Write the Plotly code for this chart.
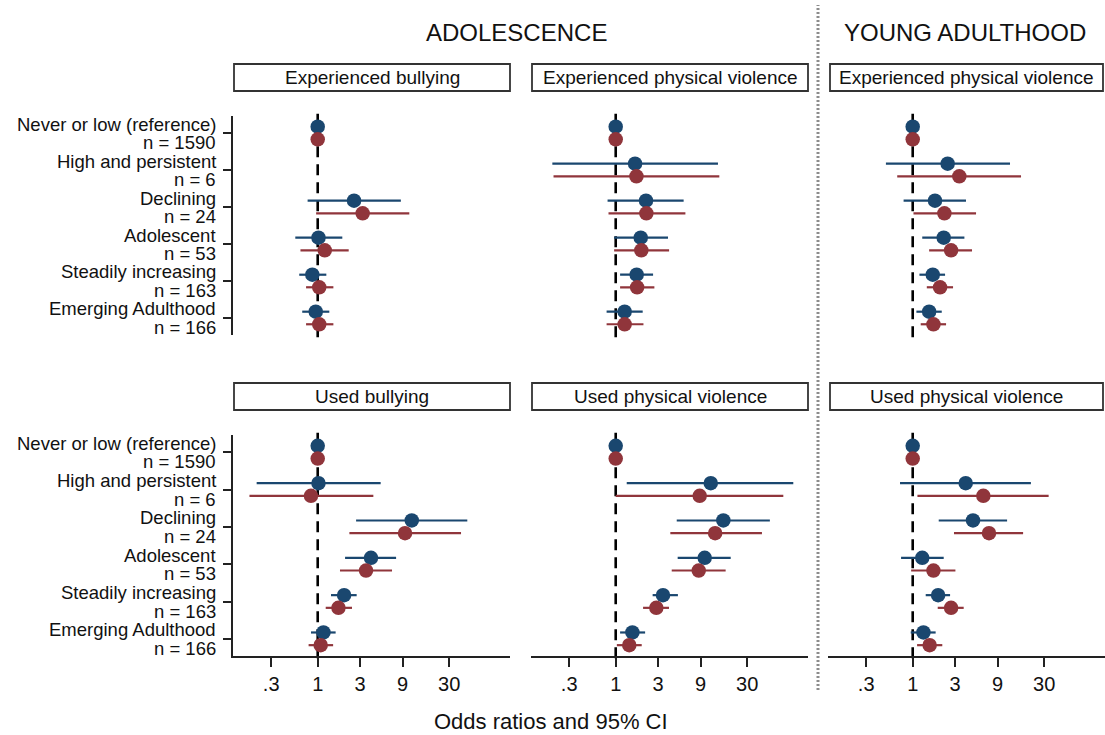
import plotly.graph_objects as go

W, H = 1105, 735

categories = ["Never or low (reference)", "High and persistent", "Declining",
              "Adolescent", "Steadily increasing", "Emerging Adulthood"]
n_labels = ["n = 1590", "n = 6", "n = 24", "n = 53", "n = 163", "n = 166"]
period_titles = ["ADOLESCENCE", "YOUNG ADULTHOOD"]
panel_titles = ["Experienced bullying", "Experienced physical violence",
                "Experienced physical violence", "Used bullying",
                "Used physical violence", "Used physical violence"]
tick_vals = [0.3, 1, 3, 9, 30]
tick_text = [".3", "1", "3", "9", "30"]
x_title = "Odds ratios and 95% CI"

N = None
# Panel 1: Adolescence - Experienced bullying
p1_blue_or = [1, N, 2.56, 1.02, 0.87, 0.95]
p1_blue_lo = [1, N, 0.77, 0.56, 0.62, 0.67]
p1_blue_hi = [1, N, 8.6, 1.89, 1.25, 1.35]
p1_red_or = [1, N, 3.2, 1.2, 1.04, 1.04]
p1_red_lo = [1, N, 0.96, 0.64, 0.74, 0.74]
p1_red_hi = [1, N, 10.7, 2.23, 1.5, 1.5]
# Panel 2: Adolescence - Experienced physical violence
p2_blue_or = [1, 1.65, 2.19, 1.91, 1.72, 1.26]
p2_blue_lo = [1, 0.194, 0.81, 0.96, 1.12, 0.79]
p2_blue_hi = [1, 14.1, 5.8, 3.87, 2.63, 2.01]
p2_red_or = [1, 1.71, 2.21, 1.94, 1.74, 1.26]
p2_red_lo = [1, 0.2, 0.83, 0.96, 1.12, 0.79]
p2_red_hi = [1, 14.6, 6.07, 3.98, 2.72, 2.05]
# Panel 3: Young adulthood - Experienced physical violence
p3_blue_or = [1, 2.47, 1.78, 2.23, 1.68, 1.53]
p3_blue_lo = [1, 0.5, 0.79, 1.28, 1.19, 1.10]
p3_blue_hi = [1, 12.4, 3.97, 3.81, 2.31, 2.12]
p3_red_or = [1, 3.34, 2.27, 2.7, 2.03, 1.71]
p3_red_lo = [1, 0.67, 1.02, 1.53, 1.44, 1.23]
p3_red_hi = [1, 16.5, 5.15, 4.64, 2.84, 2.37]
# Panel 4: Adolescence - Used bullying
p4_blue_or = [1, 1.02, 11.4, 3.97, 1.98, 1.16]
p4_blue_lo = [1, 0.206, 2.7, 2.03, 1.41, 0.84]
p4_blue_hi = [1, 5.1, 48, 7.6, 2.74, 1.59]
p4_red_or = [1, 0.84, 9.58, 3.49, 1.71, 1.08]
p4_red_lo = [1, 0.171, 2.27, 1.78, 1.23, 0.79]
p4_red_hi = [1, 4.22, 40.8, 6.84, 2.43, 1.49]
# Panel 5: Adolescence - Used physical violence
p5_blue_or = [1, 11.7, 16.2, 10.0, 3.4, 1.54]
p5_blue_lo = [1, 1.33, 4.85, 4.97, 2.6, 1.12]
p5_blue_hi = [1, 99, 54, 19.6, 5.0, 2.14]
p5_red_or = [1, 8.79, 13.1, 8.57, 2.86, 1.42]
p5_red_lo = [1, 1.0, 4.11, 4.26, 2.03, 1.03]
p5_red_hi = [1, 76.5, 44, 17.2, 3.97, 1.96]
# Panel 6: Young adulthood - Used physical violence
p6_blue_or = [1, 3.94, 4.76, 1.28, 1.93, 1.32]
p6_blue_lo = [1, 0.72, 1.96, 0.74, 1.4, 0.95]
p6_blue_hi = [1, 21.3, 11.5, 2.23, 2.63, 1.81]
p6_red_or = [1, 6.22, 7.2, 1.71, 2.7, 1.55]
p6_red_lo = [1, 1.13, 2.91, 0.96, 1.91, 1.12]
p6_red_hi = [1, 33.7, 17.4, 3.02, 3.74, 2.15]

panels = [
    (p1_blue_or, p1_blue_lo, p1_blue_hi, p1_red_or, p1_red_lo, p1_red_hi),
    (p2_blue_or, p2_blue_lo, p2_blue_hi, p2_red_or, p2_red_lo, p2_red_hi),
    (p3_blue_or, p3_blue_lo, p3_blue_hi, p3_red_or, p3_red_lo, p3_red_hi),
    (p4_blue_or, p4_blue_lo, p4_blue_hi, p4_red_or, p4_red_lo, p4_red_hi),
    (p5_blue_or, p5_blue_lo, p5_blue_hi, p5_red_or, p5_red_lo, p5_red_hi),
    (p6_blue_or, p6_blue_lo, p6_blue_hi, p6_red_or, p6_red_lo, p6_red_hi),
]

BLUE = "#1a476f"
RED = "#90353b"
FONT = "Liberation Sans, Arial, sans-serif"
AX = "#222222"

# layout geometry in pixels
col_px = [(233, 510), (531, 808), (828, 1105)]
row_px = [(116, 335), (435, 656)]


def px_x(v):
    return v / W


def px_y(v):
    return 1 - v / H


fig = go.Figure()


def errs(orv, lo, hi):
    plus = [None if o is None else h - o for o, h in zip(orv, hi)]
    minus = [None if o is None else o - l for o, l in zip(orv, lo)]
    return plus, minus


ycat = list(range(len(categories)))
for k, (bo, bl, bh, ro, rl, rh) in enumerate(panels):
    sx = "x" if k == 0 else f"x{k+1}"
    sy = "y" if k == 0 else f"y{k+1}"
    for orv, lo, hi, col, off in [(bo, bl, bh, BLUE, -0.17), (ro, rl, rh, RED, 0.17)]:
        plus, minus = errs(orv, lo, hi)
        fig.add_trace(go.Scatter(
            x=orv, y=[c + off for c in ycat], xaxis=sx, yaxis=sy,
            mode="markers",
            marker=dict(color=col, size=14.5, line=dict(width=0)),
            error_x=dict(type="data", symmetric=False, array=plus, arrayminus=minus,
                         color=col, thickness=2.2, width=0),
            showlegend=False, hoverinfo="x+y",
        ))
    # reference line at OR = 1
    fig.add_shape(type="line", xref=sx, yref=f"{sy} domain", x0=1, x1=1, y0=-0.01, y1=1.01,
                  line=dict(color="black", width=2.6, dash="11px,7px"), layer="below")

layout = dict(
    width=W, height=H, margin=dict(l=0, r=0, t=0, b=0),
    paper_bgcolor="white", plot_bgcolor="white",
    font=dict(family=FONT, color="#111111"),
    showlegend=False,
)
xr = [-0.952, 2.161]
yr = [5.46, -0.46]
for k in range(6):
    r, c = divmod(k, 3)
    xname = "xaxis" if k == 0 else f"xaxis{k+1}"
    yname = "yaxis" if k == 0 else f"yaxis{k+1}"
    yid = "y" if k == 0 else f"y{k+1}"
    xid = "x" if k == 0 else f"x{k+1}"
    bottom = r == 1
    layout[xname] = dict(
        domain=[px_x(col_px[c][0]), px_x(col_px[c][1])], anchor=yid,
        type="log", range=xr, showgrid=False, zeroline=False,
        showline=bottom, linecolor=AX, linewidth=1.5,
        ticks="outside" if bottom else "", ticklen=9, tickwidth=1.5, tickcolor=AX,
        tickvals=tick_vals, ticktext=tick_text, showticklabels=bottom,
        tickfont=dict(size=20, family=FONT, color="#111111"),
    )
    left = c == 0
    layout[yname] = dict(
        domain=[px_y(row_px[r][1]), px_y(row_px[r][0])], anchor=xid,
        range=yr, showgrid=False, zeroline=False,
        showline=left, linecolor=AX, linewidth=1.5,
        ticks="outside" if left else "", ticklen=8, tickwidth=1.5, tickcolor=AX,
        tickvals=ycat, ticktext=["" for _ in ycat], showticklabels=False,
    )
fig.update_layout(**layout)

# category labels (two lines each) for both rows
for r, yid in enumerate(["y", "y4"]):
    for i, (cat, nl) in enumerate(zip(categories, n_labels)):
        fig.add_annotation(x=px_x(218), xref="paper", y=i, yref=yid, text=cat,
                           showarrow=False, xanchor="right", yanchor="middle", yshift=9,
                           font=dict(size=18.5, family=FONT, color="#111111"))
        fig.add_annotation(x=px_x(218), xref="paper", y=i, yref=yid, text=nl,
                           showarrow=False, xanchor="right", yanchor="middle", yshift=-9.5,
                           font=dict(size=18.5, family=FONT, color="#111111"))

# panel title boxes
box_rows = [(64, 91), (383, 410)]
box_cols = [(234, 510), (532, 808), (830, 1103)]
for k, t in enumerate(panel_titles):
    r, c = divmod(k, 3)
    x0, x1 = box_cols[c]
    y0, y1 = box_rows[r]
    fig.add_shape(type="rect", xref="paper", yref="paper",
                  x0=px_x(x0), x1=px_x(x1), y0=px_y(y1), y1=px_y(y0),
                  line=dict(color="#333333", width=1.8), fillcolor="white")
    fig.add_annotation(x=px_x((x0 + x1) / 2), y=px_y((y0 + y1) / 2), xref="paper", yref="paper",
                       text=t, showarrow=False, xanchor="center", yanchor="middle",
                       font=dict(size=19, family=FONT, color="#111111"))

# period titles
fig.add_annotation(x=px_x(516), y=px_y(32), xref="paper", yref="paper", text=period_titles[0],
                   showarrow=False, xanchor="center", yanchor="middle",
                   font=dict(size=24, family=FONT, color="#111111"))
fig.add_annotation(x=px_x(965), y=px_y(32), xref="paper", yref="paper", text=period_titles[1],
                   showarrow=False, xanchor="center", yanchor="middle",
                   font=dict(size=24, family=FONT, color="#111111"))

# vertical dotted separator
fig.add_shape(type="line", xref="paper", yref="paper", x0=px_x(818), x1=px_x(818),
              y0=px_y(690), y1=px_y(5), line=dict(color="#8c8c8c", width=3, dash="2px,2px"))

# x axis title
fig.add_annotation(x=px_x(551), y=px_y(721), xref="paper", yref="paper", text=x_title,
                   showarrow=False, xanchor="center", yanchor="middle",
                   font=dict(size=22, family=FONT, color="#111111"))

fig.write_html("out.html")
